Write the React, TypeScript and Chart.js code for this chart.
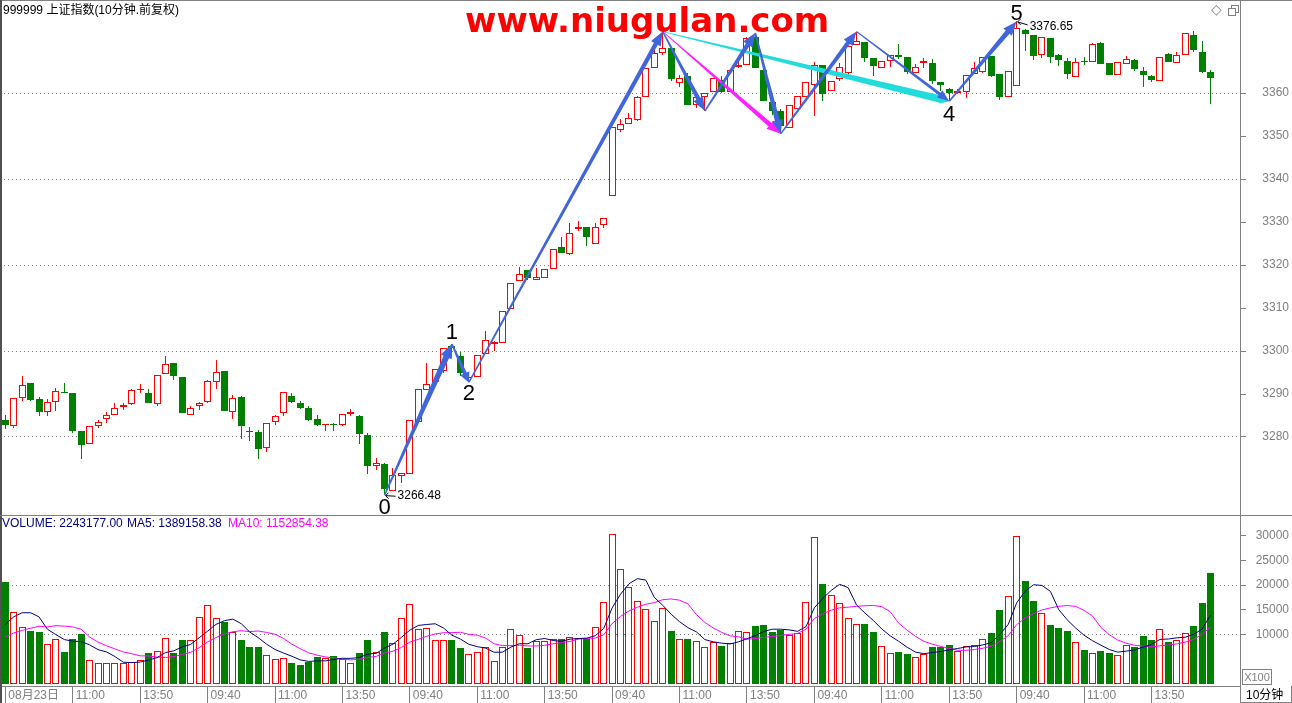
import React, { useEffect, useRef } from 'react';
import { Chart, registerables } from 'chart.js';

Chart.register(...registerables);

// ---------------- data (10-minute bars, 6 trading days) ----------------
const opens = [3284.0, 3282.5, 3289.1, 3292.6, 3288.8, 3285.8, 3288.1, 3290.5, 3290.3, 3281.5,
  3278.4, 3282.5, 3284.2, 3285.1, 3287.0, 3287.7, 3290.9, 3290.3, 3287.7, 3294.7,
  3297.3, 3294.0, 3285.1, 3287.2, 3288.1, 3292.8, 3295.4, 3285.8, 3289.4, 3281.2,
  3281.2, 3277.4, 3283.5, 3285.6, 3289.5, 3288.0, 3286.8, 3284.3, 3282.7, 3282.9,
  3282.9, 3285.3, 3285.0, 3280.5, 3273.3, 3273.8, 3267.5, 3270.9, 3271.5, 3283.6,
  3290.9, 3292.9, 3295.3, 3301.2, 3298.9, 3293.8, 3294.0, 3299.3, 3301.6, 3301.9,
  3309.8, 3316.2, 3318.8, 3316.5, 3317.0, 3319.1, 3324.2, 3322.6, 3328.3, 3328.8,
  3325.0, 3329.2, 3336.0, 3351.3, 3352.9, 3353.7, 3359.1, 3365.9, 3369.4, 3370.4,
  3362.3, 3364.0, 3357.1, 3359.1, 3360.2, 3363.0, 3360.2, 3366.0, 3366.4, 3373.1,
  3365.3, 3358.0, 3355.7, 3351.8, 3356.3, 3359.1, 3361.9, 3366.5, 3360.4, 3363.3,
  3364.6, 3371.2, 3371.9, 3368.1, 3365.8, 3367.5, 3368.8, 3368.4, 3364.6, 3367.0,
  3367.0, 3362.6, 3360.9, 3360.0, 3360.3, 3364.5, 3365.0, 3368.6, 3364.5, 3359.1,
  3361.6, 3374.6, 3373.5, 3368.8, 3372.9, 3368.8, 3367.4, 3363.7, 3367.2, 3367.2,
  3371.6, 3367.0, 3364.3, 3366.7, 3367.6, 3365.1, 3364.0, 3362.9, 3369.0, 3367.0,
  3368.8, 3373.5, 3369.5, 3364.9];

const highs = [3285.2, 3289.1, 3294.3, 3292.6, 3289.4, 3288.9, 3291.5, 3292.6, 3290.3, 3281.5,
  3282.6, 3284.0, 3285.7, 3287.8, 3287.8, 3291.2, 3292.3, 3291.2, 3294.4, 3298.9,
  3297.3, 3294.0, 3287.2, 3288.1, 3293.3, 3297.8, 3295.4, 3289.8, 3289.6, 3282.4,
  3281.7, 3283.3, 3285.2, 3290.5, 3290.3, 3288.4, 3287.3, 3285.2, 3283.1, 3283.2,
  3285.3, 3286.4, 3285.2, 3280.9, 3275.0, 3274.0, 3272.7, 3271.7, 3284.0, 3291.2,
  3297.1, 3295.9, 3300.8, 3301.6, 3299.7, 3294.3, 3299.1, 3304.7, 3302.4, 3309.3,
  3315.8, 3319.6, 3318.8, 3319.2, 3319.1, 3323.7, 3326.6, 3329.7, 3330.2, 3328.8,
  3329.7, 3331.0, 3352.0, 3353.9, 3355.4, 3359.3, 3365.7, 3371.7, 3374.3, 3370.4,
  3364.3, 3364.6, 3359.0, 3359.9, 3363.5, 3364.0, 3365.3, 3367.4, 3373.0, 3374.0,
  3365.3, 3358.0, 3356.3, 3357.2, 3359.2, 3362.6, 3367.1, 3366.5, 3362.9, 3366.9,
  3371.0, 3374.3, 3371.9, 3368.1, 3367.5, 3368.8, 3371.4, 3368.4, 3366.7, 3368.1,
  3367.9, 3362.6, 3361.1, 3360.9, 3364.2, 3367.1, 3368.4, 3368.6, 3364.5, 3365.1,
  3376.65, 3374.8, 3373.6, 3373.0, 3372.9, 3369.1, 3368.2, 3368.1, 3368.4, 3371.6,
  3371.9, 3367.0, 3367.1, 3368.6, 3367.8, 3366.0, 3364.2, 3368.4, 3369.4, 3369.6,
  3373.9, 3374.4, 3372.2, 3365.3];

const lows = [3281.8, 3282.1, 3288.3, 3288.4, 3284.8, 3284.8, 3286.1, 3290.2, 3280.9, 3274.8,
  3278.4, 3282.2, 3283.2, 3285.1, 3286.2, 3287.4, 3290.2, 3287.8, 3287.2, 3294.7,
  3293.2, 3285.5, 3285.1, 3286.2, 3288.0, 3291.1, 3286.0, 3284.1, 3279.5, 3279.0,
  3274.8, 3276.5, 3282.7, 3285.0, 3287.8, 3286.4, 3283.8, 3282.5, 3281.3, 3281.3,
  3282.5, 3285.0, 3278.4, 3271.5, 3272.3, 3266.48, 3267.5, 3269.2, 3271.5, 3283.6,
  3290.9, 3292.9, 3294.9, 3298.5, 3294.3, 3292.7, 3294.0, 3299.3, 3300.1, 3301.9,
  3309.8, 3316.2, 3316.4, 3316.5, 3317.0, 3319.1, 3322.9, 3322.3, 3327.8, 3324.5,
  3325.0, 3328.5, 3336.0, 3351.0, 3352.9, 3353.5, 3359.1, 3365.9, 3368.9, 3362.7,
  3361.3, 3357.1, 3356.5, 3355.8, 3360.2, 3359.9, 3360.2, 3365.8, 3366.4, 3365.8,
  3358.1, 3354.9, 3350.5, 3351.8, 3356.3, 3359.1, 3354.6, 3358.2, 3360.4, 3362.7,
  3364.0, 3371.2, 3367.3, 3364.0, 3365.8, 3366.0, 3367.9, 3364.5, 3364.6, 3365.7,
  3362.0, 3360.5, 3358.1, 3359.8, 3358.8, 3364.5, 3364.7, 3363.7, 3358.3, 3359.1,
  3361.6, 3369.8, 3367.7, 3368.1, 3366.9, 3366.3, 3363.2, 3363.7, 3366.5, 3367.1,
  3366.7, 3364.3, 3364.3, 3366.7, 3365.1, 3361.5, 3362.6, 3362.9, 3367.1, 3367.0,
  3368.8, 3369.6, 3364.7, 3357.4];

const closes = [3282.9, 3289.1, 3292.1, 3288.6, 3285.7, 3288.1, 3290.7, 3290.2, 3281.3, 3278.1,
  3282.6, 3283.5, 3285.2, 3286.7, 3287.4, 3290.9, 3291.0, 3287.8, 3294.4, 3297.0,
  3294.3, 3285.5, 3286.7, 3287.8, 3293.0, 3295.1, 3286.0, 3289.1, 3282.5, 3281.1,
  3277.1, 3283.3, 3284.9, 3290.5, 3288.1, 3286.7, 3284.0, 3282.9, 3283.1, 3282.8,
  3285.3, 3285.9, 3280.7, 3273.2, 3274.0, 3267.8, 3271.2, 3271.7, 3284.0, 3291.2,
  3292.4, 3295.7, 3300.8, 3300.7, 3294.8, 3294.0, 3299.1, 3302.6, 3302.1, 3309.3,
  3315.8, 3317.8, 3317.0, 3317.2, 3319.1, 3323.7, 3322.9, 3327.4, 3328.8, 3326.5,
  3328.9, 3331.0, 3352.0, 3352.8, 3354.1, 3359.0, 3365.7, 3369.2, 3370.4, 3363.2,
  3363.6, 3357.1, 3359.0, 3359.9, 3363.5, 3360.2, 3365.3, 3366.4, 3372.9, 3365.8,
  3358.1, 3355.9, 3352.4, 3357.2, 3359.2, 3362.6, 3366.4, 3359.8, 3362.9, 3366.0,
  3371.0, 3372.2, 3368.1, 3366.2, 3367.5, 3368.8, 3368.4, 3364.8, 3366.0, 3367.5,
  3362.7, 3361.8, 3360.1, 3360.5, 3364.2, 3365.7, 3368.4, 3364.0, 3359.1, 3365.1,
  3375.2, 3373.8, 3368.6, 3373.0, 3368.4, 3367.7, 3364.5, 3367.2, 3367.1, 3371.3,
  3366.8, 3364.3, 3367.1, 3368.0, 3365.5, 3364.1, 3363.0, 3368.4, 3367.1, 3368.8,
  3373.9, 3370.0, 3365.0, 3363.6];

// volume in units of x100
const volumes = [20687, 14454, 11577, 10618, 10412, 8083, 9111, 6508, 8974, 10001,
  4795, 4247, 4247, 4247, 4247, 4384, 4795, 6302, 6645, 9316,
  6302, 8768, 8768, 13426, 15961, 13221, 12467, 10412, 8768, 7535,
  7535, 5823, 5001, 5206, 4247, 3836, 4316, 5480, 5275, 5686,
  5001, 4247, 6302, 8768, 6439, 10412, 8152, 13221, 16098, 11166,
  11371, 8905, 8905, 8768, 7330, 6028, 6508, 7398, 4590, 7467,
  11166, 9933, 7330, 8700, 8700, 9111, 9111, 9522, 9316, 9111,
  11577, 16509, 30277, 23290, 19660, 16714, 15070, 12810, 15276, 10618,
  9111, 8974, 8563, 7467, 8357, 7741, 8152, 10755, 10549, 11645,
  11851, 10412, 10823, 9796, 10207, 16509, 29661, 20276, 17947, 16303,
  13221, 12056, 12056, 10412, 7672, 6302, 6508, 6097, 5412, 6097,
  7535, 7398, 7946, 6713, 7672, 7946, 9111, 10207, 14933, 17810,
  29866, 20893, 16783, 14248, 11851, 11234, 10618, 8494, 6919, 6302,
  6713, 6165, 5891, 7946, 7535, 9590, 8768, 11029, 8357, 8768,
  10207, 11645, 16372, 22432];

// volumes of the bars before the visible window (needed for the first MA values)
const prevVolumes = [6200, 6400, 6100, 6440, 9390, 6640, 7470, 10620, 14590];

const timeTickIndex = [0, 8, 16, 24, 32, 40, 48, 56, 64, 72, 80, 88, 96, 104, 112, 120, 128, 136];
const timeTickLabels = ['08月23日', '11:00', '13:50', '09:40', '11:00', '13:50', '09:40', '11:00', '13:50',
  '09:40', '11:00', '13:50', '09:40', '11:00', '13:50', '09:40', '11:00', '13:50'];
const priceTicks = [3280, 3290, 3300, 3310, 3320, 3330, 3340, 3350, 3360];
const volumeTicks = [10000, 15000, 20000, 25000, 30000];

// wave annotation points (bar index, price)
const waveIndex = [45, 53, 55, 78, 83, 89, 92, 101, 112, 120];
const wavePrice = [3266.48, 3301.6, 3292.7, 3374.3, 3355.8, 3374.0, 3350.5, 3374.3, 3358.1, 3376.65];
const waveLabels = ['0', '1', '2', '', '', '', '', '', '4', '5'];

// ---------------- styling ----------------
const RED = '#ff0000';
const GREEN = '#008000';
const GRAY = '#808080';
const BLUE = '#4166dc';
const MAGENTA = '#ff20ff';
const CYAN = '#22dcdc';
const X_MIN = -0.63;
const X_MAX = 146.5;
const P_MIN = 3261.86;
const P_MAX = 3381.63;
const V_MIN = -466;
const V_MAX = 33996;

Chart.defaults.font.family = '"Liberation Sans", Arial, "Noto Sans CJK SC", sans-serif';

function movingAverage(n: number): number[] {
  const all = [...prevVolumes, ...volumes];
  return volumes.map((_, i) => {
    const end = prevVolumes.length + i;
    let s = 0;
    for (let k = end - n + 1; k <= end; k++) s += all[k];
    return s / n;
  });
}

function taper(ctx: CanvasRenderingContext2D, x1: number, y1: number, x2: number, y2: number,
  w1: number, w2: number, hl: number, hw: number, color: string) {
  const dx = x2 - x1, dy = y2 - y1;
  const len = Math.hypot(dx, dy);
  const ux = dx / len, uy = dy / len;
  const nx = -uy, ny = ux;
  const bx = x2 - ux * hl, by = y2 - uy * hl;
  ctx.beginPath();
  ctx.moveTo(x1 + nx * w1 / 2, y1 + ny * w1 / 2);
  ctx.lineTo(bx + nx * w2 / 2, by + ny * w2 / 2);
  ctx.lineTo(bx + nx * hw / 2, by + ny * hw / 2);
  ctx.lineTo(x2, y2);
  ctx.lineTo(bx - nx * hw / 2, by - ny * hw / 2);
  ctx.lineTo(bx - nx * w2 / 2, by - ny * w2 / 2);
  ctx.lineTo(x1 - nx * w1 / 2, y1 - ny * w1 / 2);
  ctx.closePath();
  ctx.fillStyle = color;
  ctx.fill();
}

// snap bar rectangles to whole pixels so that outlines stay crisp
const snapPlugin = {
  id: 'snapBars',
  beforeDatasetsDraw(chart: any) {
    chart.data.datasets.forEach((_ds: any, di: number) => {
      const meta = chart.getDatasetMeta(di);
      if (meta.type !== 'bar') return;
      meta.data.forEach((el: any) => {
        el.x = Math.floor(el.x) + 0.5;
        const y = Math.round(el.y);
        let b = Math.round(el.base);
        if (b === y) b = y + 1;
        el.y = y;
        el.base = b;
      });
    });
  },
};

const blueStyles = [
  [1.5, 6, 14, 12], [1.5, 4, 10, 10], [1.5, 4.5, 14, 11], [1.5, 4.5, 14, 11], [1.5, 4.5, 14, 11],
  [1.5, 5, 14, 11], [1.5, 4.5, 14, 11], [1, 3, 12, 9], [1.5, 5, 14, 11],
];
const labelOffsets: Record<string, number> = { '0': 19, '1': -5, '2': 18, '4': 20, '5': -1 };

const wavePlugin = {
  id: 'waves',
  afterDatasetsDraw(chart: any) {
    const ctx: CanvasRenderingContext2D = chart.ctx;
    const xs = chart.scales.x;
    const ys = chart.scales.y;
    const px = (k: number) => xs.getPixelForValue(waveIndex[k]);
    const py = (k: number) => ys.getPixelForValue(wavePrice[k]);
    ctx.save();
    taper(ctx, px(3), py(3), px(8), py(8), 0.8, 7.5, 9, 9, CYAN);
    taper(ctx, px(3), py(3), px(6), py(6), 0.8, 4.5, 14, 11, MAGENTA);
    for (let k = 0; k < waveIndex.length - 1; k++) {
      const s = blueStyles[k];
      taper(ctx, px(k), py(k), px(k + 1), py(k + 1), s[0], s[1], s[2], s[3], BLUE);
    }
    ctx.fillStyle = '#000';
    ctx.textAlign = 'center';
    ctx.textBaseline = 'alphabetic';
    ctx.font = '22px "Liberation Sans", Arial, sans-serif';
    waveLabels.forEach((lab, k) => {
      if (!lab) return;
      ctx.fillText(lab, px(k), py(k) + labelOffsets[lab]);
    });
    // price tags at the low (wave 0) and the high (wave 5)
    ctx.font = '12px "Liberation Sans", Arial, sans-serif';
    ctx.textAlign = 'left';
    ctx.textBaseline = 'middle';
    ctx.strokeStyle = '#000';
    ctx.lineWidth = 1;
    const tags: [number, number][] = [[0, 1], [9, 5]];
    tags.forEach(([k, dy]) => {
      const x = px(k), y = py(k);
      ctx.beginPath();
      ctx.moveTo(x + 1, y + 0.5);
      ctx.lineTo(x + 11, y + dy * 0.6 + 0.5);
      ctx.moveTo(x + 1, y + 0.5);
      ctx.lineTo(x + 4, y - 2.5);
      ctx.moveTo(x + 1, y + 0.5);
      ctx.lineTo(x + 4, y + 3.5);
      ctx.stroke();
      ctx.fillText(wavePrice[k].toFixed(2), x + 13, y + dy);
    });
    ctx.restore();
  },
};

export default function App() {
  const priceRef = useRef<HTMLCanvasElement>(null);
  const volRef = useRef<HTMLCanvasElement>(null);

  useEffect(() => {
    const idx = opens.map((_, i) => i);
    const isUp = (i: number) => closes[i] >= opens[i];

    const price = new Chart(priceRef.current as HTMLCanvasElement, {
      type: 'bar',
      data: {
        datasets: [
          {
            label: 'body',
            data: idx.map((i) => ({ x: i, y: [opens[i], closes[i]] })) as any,
            backgroundColor: idx.map((i) => (isUp(i) ? '#ffffff' : GREEN)),
            borderColor: idx.map((i) => (isUp(i) ? RED : GREEN)),
            borderWidth: 1,
            borderSkipped: false,
            barThickness: 7,
            minBarLength: 1,
            inflateAmount: 0,
            grouped: false,
            order: 0,
          } as any,
          {
            label: 'wick',
            data: idx.map((i) => ({ x: i, y: [lows[i], highs[i]] })) as any,
            backgroundColor: idx.map((i) => (isUp(i) ? RED : GREEN)),
            borderWidth: 0,
            barThickness: 1,
            minBarLength: 1,
            inflateAmount: 0,
            grouped: false,
            order: 1,
          } as any,
        ],
      },
      options: {
        responsive: false,
        animation: false,
        devicePixelRatio: 1,
        layout: { padding: { left: 0, right: 3, top: 0, bottom: 0 } },
        plugins: { legend: { display: false }, tooltip: { enabled: false } },
        scales: {
          x: { type: 'linear', min: X_MIN, max: X_MAX, display: false, offset: false, grid: { offset: false } },
          y: {
            type: 'linear',
            position: 'right',
            min: P_MIN,
            max: P_MAX,
            afterBuildTicks: (s: any) => { s.ticks = priceTicks.map((v) => ({ value: v })); },
            afterFit: (s: any) => { s.width = 49; s.paddingTop = 0; s.paddingBottom = 0; },
            ticks: { callback: (v: any) => String(v), color: GRAY, font: { size: 12 }, crossAlign: 'far', autoSkip: false },
            grid: {
              color: (c: any) => (c.tick && c.tick.value % 20 === 0 ? GRAY : 'rgba(0,0,0,0)'),
              tickColor: GRAY,
              tickLength: 6,
              drawTicks: true,
            },
            border: { display: true, color: GRAY, dash: [1, 3] },
          },
        } as any,
      },
      plugins: [snapPlugin, wavePlugin],
    });

    const ma5 = movingAverage(5);
    const ma10 = movingAverage(10);

    const vol = new Chart(volRef.current as HTMLCanvasElement, {
      type: 'bar',
      data: {
        datasets: [
          {
            type: 'line',
            label: 'MA5',
            data: idx.map((i) => ({ x: i, y: ma5[i] })),
            borderColor: '#000080',
            borderWidth: 1,
            pointRadius: 0,
            tension: 0,
            order: 0,
          } as any,
          {
            type: 'line',
            label: 'MA10',
            data: idx.map((i) => ({ x: i, y: ma10[i] })),
            borderColor: '#ff00ff',
            borderWidth: 1,
            pointRadius: 0,
            tension: 0,
            order: 1,
          } as any,
          {
            type: 'bar',
            label: 'VOLUME',
            data: idx.map((i) => ({ x: i, y: volumes[i] })),
            backgroundColor: idx.map((i) => (isUp(i) ? '#ffffff' : GREEN)),
            borderColor: idx.map((i) => (isUp(i) ? RED : GREEN)),
            borderWidth: 1,
            borderSkipped: false,
            barThickness: 7,
            inflateAmount: 0,
            grouped: false,
            order: 2,
          } as any,
        ],
      },
      options: {
        responsive: false,
        animation: false,
        devicePixelRatio: 1,
        layout: { padding: { left: 0, right: 3, top: 1, bottom: 0 } },
        plugins: { legend: { display: false }, tooltip: { enabled: false } },
        scales: {
          x: {
            type: 'linear',
            min: X_MIN,
            max: X_MAX,
            offset: false,
            position: 'bottom',
            afterBuildTicks: (s: any) => { s.ticks = timeTickIndex.map((v) => ({ value: v })); },
            afterFit: (s: any) => { s.height = 17; s.paddingLeft = 0; s.paddingRight = 0; },
            ticks: {
              autoSkip: false,
              maxRotation: 0,
              minRotation: 0,
              align: 'start',
              labelOffset: 3,
              padding: -15,
              color: GRAY,
              font: { size: 12 },
              callback: (_v: any, i: number) => timeTickLabels[i],
            },
            grid: { offset: false, drawOnChartArea: false, drawTicks: true, tickLength: 17, tickColor: GRAY, color: GRAY },
            border: { display: true, color: GRAY },
          },
          y: {
            type: 'linear',
            position: 'right',
            min: V_MIN,
            max: V_MAX,
            afterBuildTicks: (s: any) => { s.ticks = volumeTicks.map((v) => ({ value: v })); },
            afterFit: (s: any) => { s.width = 49; s.paddingTop = 0; s.paddingBottom = 0; },
            ticks: { callback: (v: any) => String(v), color: GRAY, font: { size: 12 }, crossAlign: 'far', autoSkip: false },
            grid: {
              color: (c: any) => (c.tick && (c.tick.value === 10000 || c.tick.value === 20000) ? GRAY : 'rgba(0,0,0,0)'),
              tickColor: GRAY,
              tickLength: 6,
            },
            border: { display: true, color: GRAY, dash: [1, 3] },
          },
        } as any,
      },
      plugins: [snapPlugin],
    });

    return () => {
      price.destroy();
      vol.destroy();
    };
  }, []);

  const txt: React.CSSProperties = {
    position: 'absolute',
    fontFamily: '"Liberation Sans", Arial, "Noto Sans CJK SC", sans-serif',
    fontSize: 12,
    lineHeight: '14px',
    whiteSpace: 'nowrap',
  };
  const line = (l: number, t: number, w: number, h: number, c = GRAY): React.CSSProperties => ({
    position: 'absolute', left: l, top: t, width: w, height: h, background: c,
  });

  return (
    <div style={{ position: 'fixed', left: 0, top: 0, width: 1292, height: 703, background: '#fff', overflow: 'hidden' }}>
      <canvas ref={priceRef} width={1292} height={515} style={{ position: 'absolute', left: 0, top: 0, display: 'block' }} />
      <canvas ref={volRef} width={1292} height={188} style={{ position: 'absolute', left: 0, top: 515, display: 'block' }} />

      {/* frame lines */}
      <div style={line(0, 0, 1292, 1)} />
      <div style={line(0, 0, 2, 703, '#505050')} />
      <div style={line(0, 515, 1292, 1)} />
      <div style={line(1240, 686, 1, 17)} />
      <div style={line(1240, 702, 52, 1)} />
      <div style={line(1291, 686, 1, 17)} />

      {/* header */}
      <div style={{ ...txt, left: 3, top: 3, color: '#000' }}>999999 上证指数(10分钟.前复权)</div>
      <div style={{
        position: 'absolute', left: 465, top: 3, fontFamily: '"DejaVu Sans", sans-serif', fontWeight: 'bold',
        fontSize: 34, lineHeight: '34px', color: '#ff0000', whiteSpace: 'nowrap',
      }}>www.niugulan.com</div>
      <div style={{ position: 'absolute', left: 1211, top: 1, fontFamily: '"DejaVu Sans", sans-serif', fontSize: 14, color: GRAY }}>◇</div>
      <div style={{ position: 'absolute', left: 1231, top: 5, width: 6, height: 6, border: `1px solid ${GRAY}` }} />
      <div style={{ position: 'absolute', left: 1228, top: 8, width: 6, height: 6, border: `1px solid ${GRAY}`, background: '#fff' }} />

      {/* volume header */}
      <div style={{ ...txt, left: 2, top: 516, color: '#000080' }}>VOLUME: 2243177.00</div>
      <div style={{ ...txt, left: 127, top: 516, color: '#000080' }}>MA5: 1389158.38</div>
      <div style={{ ...txt, left: 228, top: 516, color: '#ff00ff' }}>MA10: 1152854.38</div>

      {/* unit box and period */}
      <div style={{ ...txt, left: 1242, top: 669, width: 28, height: 14, border: `1px solid ${GRAY}`, color: GRAY, textAlign: 'center', fontSize: 11 }}>X100</div>
      <div style={{ ...txt, left: 1246, top: 688, color: '#000' }}>10分钟</div>
    </div>
  );
}
